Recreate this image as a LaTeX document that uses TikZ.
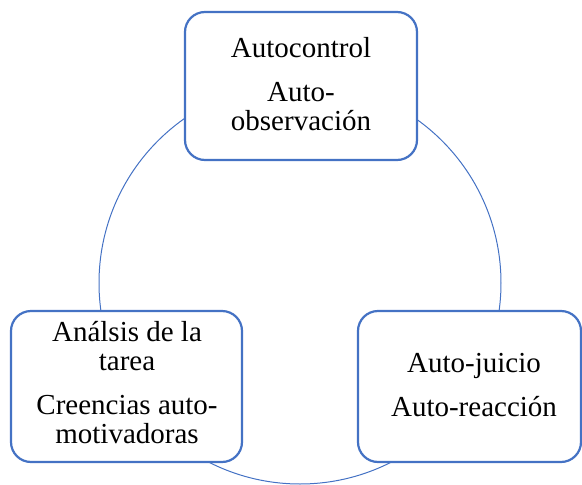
\documentclass[tikz,border=0pt]{standalone}
\usepackage{fontspec}
\setmainfont{Liberation Serif}
\definecolor{ringblue}{HTML}{4472C4}

\begin{document}
\begin{tikzpicture}[x=1pt, y=-1pt,
    phasebox/.style={draw=ringblue, line width=2.2pt, rounded corners=20pt, fill=white},
    phasetext/.style={align=center, inner sep=0pt, font=\fontsize{29}{29}\selectfont}]
    \useasboundingbox (0,0) rectangle (582,485);
    \def\R{201} % Radius of the ring
    % The ring behind the boxes
    \draw[ringblue, line width=1pt] (300,283) circle[radius=\R pt];
    % Draw the rounded boxes
    \foreach \xa/\ya/\xb/\yb in {185/12/417/160, 11/311/242/462, 358/311/581/462} {
        \draw[phasebox] (\xa,\ya) rectangle (\xb,\yb);
    }
    % Texts of the phases
    \node[phasetext] (control) at (301,84) {Autocontrol\\[15pt]Auto-\\observación};
    \node[phasetext] (planning) at (127,383) {Análsis de la\\tarea\\[15pt]Creencias auto-\\motivadoras};
    \node[phasetext] (reflection) at (474,385) {Auto-juicio\\[15pt]Auto-reacción};
\end{tikzpicture}
\end{document}
